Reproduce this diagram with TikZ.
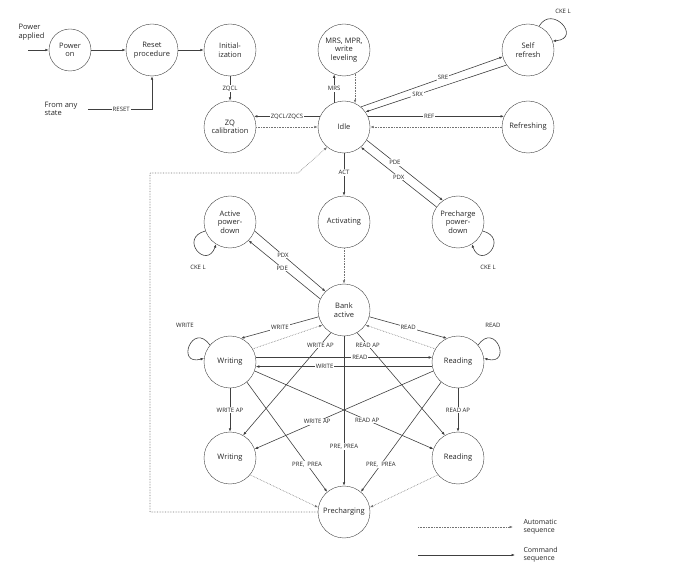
\documentclass[tikz,border=0pt]{standalone}
\usepackage{fontspec}
\setmainfont{Open Sans}
\usetikzlibrary{positioning, arrows.meta}

\begin{document}
\begin{tikzpicture}[
  x=1pt, y=-1pt,
  node distance=77pt and 114pt, on grid,
  every node/.style={font=\fontsize{7.5}{8.5}\selectfont, text=black!85},
  stnode/.style={draw=black!75, circle, align=center, minimum size=52pt, inner sep=0pt},
  lbl/.style={font=\fontsize{6}{6.5}\selectfont, fill=white, inner sep=1pt},
  line/.style={-{Latex[length=3.5pt,width=2.6pt]}, black!75, semithick},
  autoseq/.style={-{Latex[length=3.5pt,width=2.6pt]}, black!55, densely dotted, semithick}
]
\useasboundingbox (0,0) rectangle (681,588);

% states
\node[stnode] (idle) at (344,127) {Idle};
\node[stnode, above=77pt of idle] (mrs) {MRS, MPR,\\write\\leveling};
\node[stnode, left=114pt of idle] (zq) {ZQ\\calibration};
\node[stnode, above=77pt of zq] (init) {Initial-\\ization};
\node[stnode, left=78pt of init] (reset) {Reset\\procedure};
\node[stnode, minimum size=42pt, left=82pt of reset] (pwr) {Power\\on};
\node[stnode, right=184pt of mrs] (self) {Self\\refresh};
\node[stnode, right=184pt of idle] (refr) {Refreshing};
\node[stnode, below=95pt of idle] (actv) {Activating};
\node[stnode, left=114pt of actv] (apd) {Active\\power-\\down};
\node[stnode, right=114pt of actv] (ppd) {Precharge\\power-\\down};
\node[stnode, below=88pt of actv] (bank) {Bank\\active};
\node[stnode, below left=52pt and 114pt of bank] (wr) {Writing};
\node[stnode, below right=52pt and 114pt of bank] (rd) {Reading};
\node[stnode, below=96pt of wr] (wrap) {Writing};
\node[stnode, below=96pt of rd] (rdap) {Reading};
\node[stnode, below=202pt of bank] (prech) {Precharging};

% free texts
\node[align=left, anchor=west] (applied) at (15,32) {Power\\applied};
\node[align=left, anchor=west] (anystate) at (41,109) {From any\\state};
\coordinate (pin) at (28,50);

% power-up sequence
\draw[line] (pin) -- (pwr);
\draw[line] (pwr) -- (reset);
\draw[line] (reset) -- (init);
\draw[line] ([xshift=7pt]anystate.east) -| node[lbl, pos=0.26]{RESET} (reset.south);
\draw[line] (init) -- node[lbl]{ZQCL} (zq);

% around idle
\draw[line] (idle.156) -- node[lbl]{ZQCL/ZQCS} (zq.24);
\draw[autoseq] (zq) -- (idle);
\draw[line] (idle.112) -- node[lbl]{MRS} (mrs.248);
\draw[autoseq] (mrs.295) -- (idle.65);
\draw[line] (idle.50) -- node[lbl, pos=0.58]{SRE} (self.195);
\draw[line] (self.215) -- node[lbl, pos=0.63]{SRX} (idle.35);
\draw[line] (self.65) .. controls +(60:26pt) and +(5:30pt) .. (self.20);
\node[lbl] (ckeself) at (563,11) {CKE L};
\draw[line] (idle.24) -- node[lbl, pos=0.45]{REF} (refr.156);
\draw[autoseq] (refr) -- (idle);
\draw[line] (idle) -- node[lbl, pos=0.45]{ACT} (actv);
\draw[line] (idle.-30) -- node[lbl, pos=0.37]{PDE} (ppd.125);
\draw[line] (ppd.145) -- node[lbl, pos=0.5]{PDX} (idle.-50);
\draw[line] (ppd.-20) .. controls +(-15:28pt) and +(-70:28pt) .. (ppd.-58);
\node[lbl] (ckeppd) at (488,267) {CKE L};

% power-down from bank active
\draw[autoseq] (actv) -- (bank);
\draw[line] (apd.-20) -- node[lbl, pos=0.4]{PDX} (bank.135);
\draw[line] (bank.155) -- node[lbl, pos=0.53]{PDE} (apd.-45);
\draw[line] (apd.200) .. controls +(195:28pt) and +(250:28pt) .. (apd.238);
\node[lbl] (ckeapd) at (198,267) {CKE L};

% bank active, reads and writes
\draw[line] (bank.195) -- node[lbl]{WRITE} (wr.65);
\draw[autoseq] (wr.30) -- (bank.215);
\draw[line] (bank.-15) -- node[lbl]{READ} (rd.115);
\draw[autoseq] (rd.150) -- (bank.-35);
\draw[line] (wr.140) .. controls +(125:30pt) and +(195:30pt) .. (wr.172);
\node[lbl] (wrloop) at (185,325) {WRITE};
\draw[line] (rd.40) .. controls +(55:30pt) and +(-15:30pt) .. (rd.8);
\node[lbl] (rdloop) at (493,325) {READ};
\draw[line] (wr.10) -- node[lbl, pos=0.59]{READ} (rd.170);
\draw[line] (rd.190) -- node[lbl, pos=0.61]{WRITE} (wr.-10);
\draw[line] (wr) -- node[lbl]{WRITE AP} (wrap);
\draw[line] (rd) -- node[lbl]{READ AP} (rdap);
\draw[line] (bank.240) -- node[lbl, pos=0.12]{WRITE AP} (wrap.60);
\draw[line] (bank.300) -- node[lbl, pos=0.12]{READ AP} (rdap.120);
\draw[line] (wr.-20) -- node[lbl, pos=0.63]{READ AP} (rdap.160);
\draw[line] (rd.200) -- node[lbl, pos=0.65]{WRITE AP} (wrap.20);

% precharge
\draw[line] (bank) -- node[lbl, pos=0.74]{PRE, PREA} (prech);
\draw[line] (wr.-50) -- node[lbl, pos=0.75]{PRE,\ \ PREA} (prech.130);
\draw[line] (rd.230) -- node[lbl, pos=0.75]{PRE,\ \ PREA} (prech.50);
\draw[autoseq] (wrap.-40) -- (prech.170);
\draw[autoseq] (rdap.220) -- (prech.10);
\coordinate (cA) at (150,173);
\coordinate (cB) at (298,173);
\draw[autoseq] (prech.west) -| (cA) -- (cB) -- (idle.230);

% legend
\coordinate (autoA) at (418,527);
\coordinate (autoB) at (513,527);
\coordinate (cmdA) at (418,555);
\coordinate (cmdB) at (515,555);
\draw[autoseq] (autoA) -- (autoB);
\draw[line] (cmdA) -- (cmdB);
\node[align=left, anchor=west, font=\fontsize{7}{8}\selectfont] (autotxt) at (520,527) {Automatic\\sequence};
\node[align=left, anchor=west, font=\fontsize{7}{8}\selectfont] (cmdtxt) at (520,555) {Command\\sequence};
\end{tikzpicture}
\end{document}
